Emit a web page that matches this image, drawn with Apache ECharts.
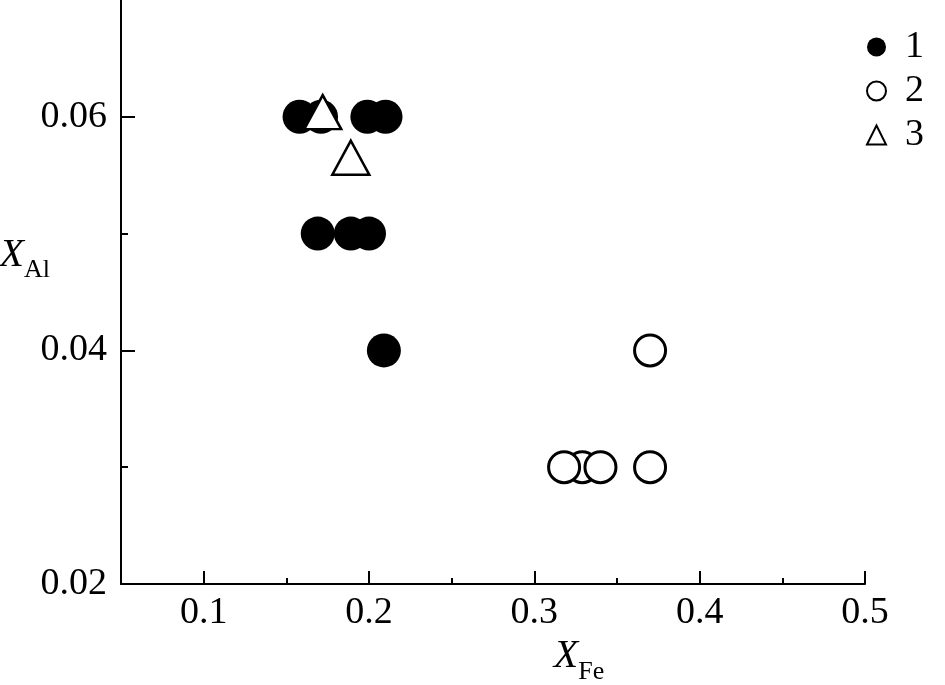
<!DOCTYPE html>
<html>
<head>
<meta charset="utf-8">
<script src="https://cdn.jsdelivr.net/npm/echarts@6/dist/echarts.min.js"></script>
<style>
html,body{margin:0;padding:0;background:#fff;}
#chart{width:945px;height:685px;}
</style>
</head>
<body>
<div id="chart"></div>
<script>
// Series 1: filled circles
var s1X = [0.158, 0.171, 0.199, 0.210, 0.169, 0.189, 0.200, 0.209];
var s1Y = [0.060, 0.060, 0.060, 0.060, 0.050, 0.050, 0.050, 0.040];
// Series 2: open circles
var s2X = [0.329, 0.318, 0.340, 0.370, 0.370];
var s2Y = [0.030, 0.030, 0.030, 0.030, 0.040];
// Series 3: open triangles
var s3X = [0.172, 0.189];
var s3Y = [0.0604, 0.0565];
// Names and ticks
var seriesNames = ['1', '2', '3'];
var xMajorTicks = [0.1, 0.2, 0.3, 0.4, 0.5];
var xMinorTicks = [0.15, 0.25, 0.35, 0.45];
var yMajorTicks = [0.02, 0.04, 0.06];
var yMinorTicks = [0.03, 0.05];

function zip(xs, ys) { return xs.map(function (x, i) { return [x, ys[i]]; }); }

var FONT = 'Liberation Serif';
var chart = echarts.init(document.getElementById('chart'));
var nameRich = {
  x: { fontFamily: FONT, fontStyle: 'italic', fontSize: 40, color: '#000' },
  s: { fontFamily: FONT, fontSize: 26, color: '#000', padding: [30, 0, 0, 0] }
};
chart.setOption({
  backgroundColor: '#fff',
  animation: false,
  grid: { left: 121, right: 80, top: 0, bottom: 101, outerBoundsMode: 'none', containLabel: false },
  legend: {
    orient: 'vertical', left: 866, top: 28, padding: 0,
    itemWidth: 19, itemHeight: 19, itemGap: 6,
    textStyle: { fontFamily: FONT, fontSize: 38, color: '#000', lineHeight: 38, padding: [0, 0, 0, 14] },
    data: seriesNames
  },
  xAxis: [{
    type: 'value', min: 0.05, max: 0.5, position: 'bottom',
    name: '{x|X}{s|Fe}', nameLocation: 'middle', nameGap: 35,
    nameTextStyle: { rich: nameRich, padding: [0, 0, 0, 172] },
    axisLine: { show: true, lineStyle: { color: '#000', width: 2 } },
    axisTick: { show: true, inside: true, length: 13, lineStyle: { color: '#000', width: 2 }, customValues: xMajorTicks },
    axisLabel: { customValues: xMajorTicks, fontFamily: FONT, fontSize: 38, color: '#000', margin: 10,
      formatter: function (v) { return v.toFixed(1); } },
    splitLine: { show: false }
  }, {
    type: 'value', min: 0.05, max: 0.5, position: 'bottom',
    axisLine: { show: false },
    axisTick: { show: true, inside: true, length: 6, lineStyle: { color: '#000', width: 2 }, customValues: xMinorTicks },
    axisLabel: { show: false },
    splitLine: { show: false }
  }],
  yAxis: [{
    type: 'value', min: 0.02, max: 0.07, position: 'left',
    name: '{x|X}{s|Al}', nameLocation: 'middle', nameGap: 71, nameRotate: 0, nameMoveOverlap: false,
    nameTextStyle: { rich: nameRich, padding: [0, 0, 74, 0] },
    axisLine: { show: true, lineStyle: { color: '#000', width: 2 } },
    axisTick: { show: true, inside: true, length: 14, lineStyle: { color: '#000', width: 2 }, customValues: yMajorTicks },
    axisLabel: { customValues: yMajorTicks, fontFamily: FONT, fontSize: 38, color: '#000', margin: 14,
      formatter: function (v) { return v.toFixed(2); } },
    splitLine: { show: false }
  }, {
    type: 'value', min: 0.02, max: 0.07, position: 'left',
    axisLine: { show: false },
    axisTick: { show: true, inside: true, length: 7, lineStyle: { color: '#000', width: 2 }, customValues: yMinorTicks },
    axisLabel: { show: false },
    splitLine: { show: false }
  }],
  series: [{
    name: seriesNames[0], type: 'scatter', xAxisIndex: 0, yAxisIndex: 0,
    symbol: 'circle', symbolSize: 34,
    itemStyle: { color: '#000', opacity: 1 },
    data: zip(s1X, s1Y)
  }, {
    name: seriesNames[1], type: 'scatter', xAxisIndex: 0, yAxisIndex: 0,
    symbol: 'circle', symbolSize: 31,
    itemStyle: { color: '#fff', borderColor: '#000', borderWidth: 3, opacity: 1 },
    data: zip(s2X, s2Y)
  }, {
    name: seriesNames[2], type: 'scatter', xAxisIndex: 0, yAxisIndex: 0,
    symbol: 'triangle', symbolSize: [37, 34],
    itemStyle: { color: '#fff', borderColor: '#000', borderWidth: 2.5, opacity: 1 },
    data: zip(s3X, s3Y)
  }]
});
</script>
</body>
</html>
